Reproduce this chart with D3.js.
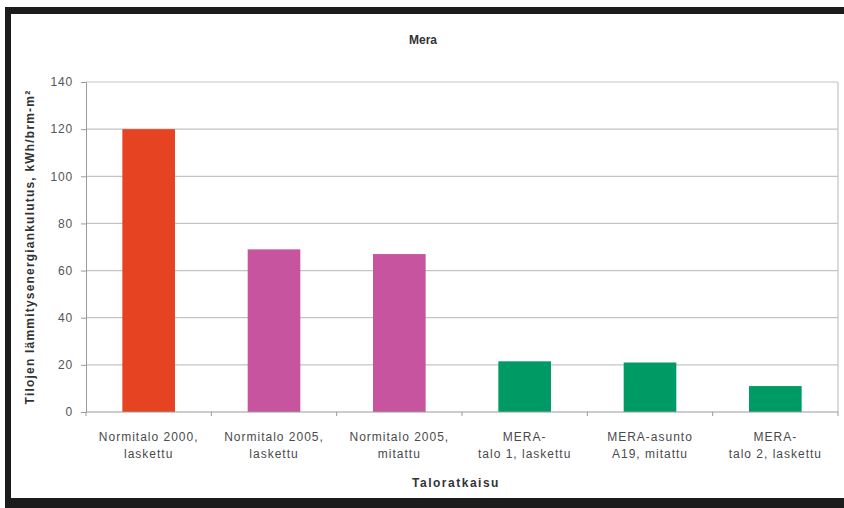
<!DOCTYPE html>
<html>
<head>
<meta charset="utf-8">
<script src="https://cdn.jsdelivr.net/npm/d3@7"></script>
<style>
  html, body { margin: 0; padding: 0; background: #fff; }
  svg { display: block; font-family: "Liberation Sans", Arial, sans-serif; }
</style>
</head>
<body>
<svg id="chart" width="844" height="508"></svg>
<script>
// Heating energy consumption per building solution
const categories = [
  ["Normitalo 2000,", "laskettu"],
  ["Normitalo 2005,", "laskettu"],
  ["Normitalo 2005,", "mitattu"],
  ["MERA-", "talo 1, laskettu"],
  ["MERA-asunto", "A19, mitattu"],
  ["MERA-", "talo 2, laskettu"]
];
const values = [120, 69, 67, 21.5, 21, 11];
const barColors = ["#e64322", "#c6549f", "#c6549f", "#009a64", "#009a64", "#009a64"];
const yTicks = [0, 20, 40, 60, 80, 100, 120, 140];

const svg = d3.select("#chart");

// dark frame around the chart
svg.append("rect").attr("x", 5).attr("y", 7).attr("width", 839).attr("height", 7).attr("fill", "#1c1c1c");
svg.append("rect").attr("x", 5).attr("y", 7).attr("width", 6).attr("height", 501).attr("fill", "#1c1c1c");
svg.append("rect").attr("x", 5).attr("y", 498).attr("width", 839).attr("height", 10).attr("fill", "#1c1c1c");

const plotLeft = 86, plotRight = 838, plotTop = 82, plotBottom = 412;

const x = d3.scaleBand()
  .domain(d3.range(categories.length))
  .range([plotLeft, plotRight])
  .paddingInner(0.58)
  .paddingOuter(0.29);

const y = d3.scaleLinear().domain([0, 140]).range([plotBottom, plotTop]);

// gridlines
svg.append("g")
  .selectAll("line")
  .data(yTicks.filter(d => d > 0))
  .join("line")
  .attr("x1", plotLeft).attr("x2", plotRight)
  .attr("y1", d => y(d)).attr("y2", d => y(d))
  .attr("stroke", "#c4c4c4").attr("stroke-width", 1.2);

// right border of plot area
svg.append("line")
  .attr("x1", plotRight).attr("x2", plotRight)
  .attr("y1", plotTop).attr("y2", plotBottom)
  .attr("stroke", "#c4c4c4").attr("stroke-width", 1.2);

// bars
svg.append("g")
  .selectAll("rect")
  .data(values)
  .join("rect")
  .attr("x", (d, i) => x(i))
  .attr("width", x.bandwidth())
  .attr("y", d => y(d))
  .attr("height", d => y(0) - y(d))
  .attr("fill", (d, i) => barColors[i]);

// y axis
const yAxis = d3.axisLeft(y).tickValues(yTicks).tickSize(5).tickPadding(8);
const gy = svg.append("g").attr("transform", `translate(${plotLeft},0)`).call(yAxis);
gy.select(".domain").attr("stroke", "#9a9a9a");
gy.selectAll(".tick line").attr("stroke", "#9a9a9a");
gy.selectAll(".tick text")
  .attr("fill", "#555")
  .attr("font-size", 12)
  .attr("letter-spacing", 0.8)
  .attr("font-family", "Liberation Sans, Arial, sans-serif");

// x axis line with separators between categories
svg.append("line")
  .attr("x1", plotLeft).attr("x2", plotRight)
  .attr("y1", plotBottom).attr("y2", plotBottom)
  .attr("stroke", "#9a9a9a");
const sepStep = (plotRight - plotLeft) / categories.length;
svg.append("g")
  .selectAll("line")
  .data(d3.range(categories.length + 1))
  .join("line")
  .attr("x1", i => plotLeft + i * sepStep)
  .attr("x2", i => plotLeft + i * sepStep)
  .attr("y1", plotBottom).attr("y2", plotBottom + 4)
  .attr("stroke", "#9a9a9a");

// category labels
const lab = svg.append("g")
  .selectAll("text")
  .data(categories)
  .join("text")
  .attr("x", (d, i) => x(i) + x.bandwidth() / 2)
  .attr("y", 441)
  .attr("text-anchor", "middle")
  .attr("font-size", 12)
  .attr("letter-spacing", 1)
  .attr("fill", "#4a4a4a");
lab.each(function(d) {
  const t = d3.select(this);
  d.forEach((line, k) => {
    t.append("tspan").attr("x", t.attr("x")).attr("dy", k === 0 ? 0 : 17).text(line);
  });
});

// titles
svg.append("text")
  .attr("x", 423).attr("y", 44)
  .attr("text-anchor", "middle")
  .attr("font-size", 12).attr("font-weight", "bold").attr("fill", "#333")
  .text("Mera");

svg.append("text")
  .attr("x", 456).attr("y", 487)
  .attr("text-anchor", "middle")
  .attr("font-size", 12).attr("font-weight", "bold").attr("fill", "#333")
  .attr("letter-spacing", 1.5)
  .text("Taloratkaisu");

svg.append("text")
  .attr("transform", `translate(34,${(plotTop + plotBottom) / 2}) rotate(-90)`)
  .attr("text-anchor", "middle")
  .attr("font-size", 12).attr("font-weight", "bold").attr("fill", "#333")
  .attr("letter-spacing", 1.2)
  .text("Tilojen lämmitysenergiankulutus, kWh/brm-m²");
</script>
</body>
</html>
